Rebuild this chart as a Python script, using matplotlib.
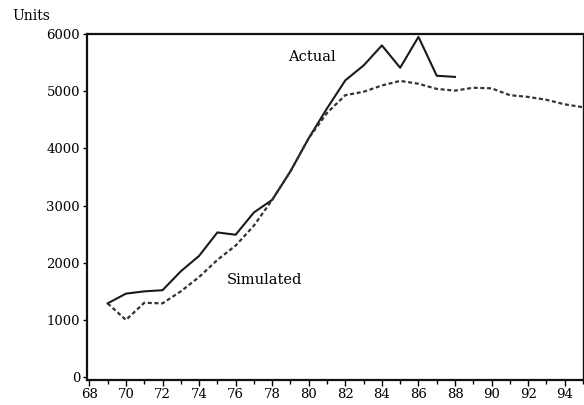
import matplotlib.pyplot as plt
import numpy as np

# years (19xx)
anos_real = [69, 70, 71, 72, 73, 74, 75, 76, 77, 78, 79, 80, 81, 82, 83, 84, 85, 86, 87, 88]
real = [1290, 1460, 1500, 1520, 1850, 2120, 2530, 2490, 2880, 3100,
        3600, 4180, 4700, 5190, 5450, 5800, 5410, 5950, 5270, 5250]

anos_sim = list(range(69, 96))
simulado = [1290, 1000, 1300, 1290, 1500, 1750, 2050, 2300, 2650, 3100,
            3600, 4180, 4620, 4930, 4990, 5100, 5180, 5130, 5040, 5010,
            5060, 5050, 4930, 4900, 4850, 4770, 4720]

xticks = list(range(68, 96, 2))
yticks = [0, 1000, 2000, 3000, 4000, 5000, 6000]

plt.rcParams['font.family'] = ['DejaVu Serif']

fig = plt.figure(figsize=(5.84, 4.05), dpi=100)
ax = fig.add_axes([87 / 584, 25 / 405, 496 / 584, 346 / 405])

ax.plot(anos_real, real, color='#1a1a1a', linewidth=1.5)
ax.plot(anos_sim, simulado, color='#333333', linewidth=1.6, linestyle=(0, (1.8, 1.2)))

ax.set_xlim(67.87, 94.95)
ax.set_ylim(-50, 6000)

ax.set_xticks(xticks)
ax.set_xticks(range(68, 96), minor=True)
ax.set_yticks(yticks)
ax.tick_params(axis='x', which='major', length=4, width=1, labelsize=9.5, pad=2)
ax.tick_params(axis='x', which='minor', length=3, width=1)
ax.tick_params(axis='y', length=3, width=1, labelsize=9.5, pad=2)

for s in ax.spines.values():
    s.set_linewidth(1.6)
    s.set_color('#111111')
ax.spines['right'].set_linewidth(1.0)

ax.text(78.85, 5600, 'Actual', fontsize=10.5, ha='left', va='center')
ax.text(75.5, 1700, 'Simulated', fontsize=10.5, ha='left', va='center')
fig.text(12 / 584, 1 - 16 / 405, 'Units', fontsize=10, ha='left', va='center')

plt.savefig('out.png', dpi=100)
